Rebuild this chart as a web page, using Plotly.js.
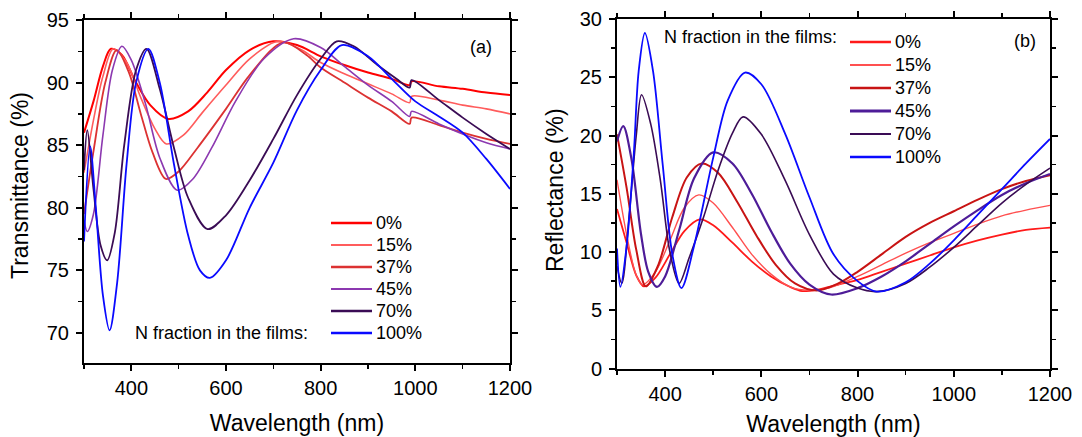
<!DOCTYPE html>
<html>
<head>
<meta charset="utf-8">
<script src="https://cdn.plot.ly/plotly-3.0.1.min.js"></script>
<style>html,body{margin:0;padding:0;background:#fff;}#chart{width:1082px;height:437px;}</style>
</head>
<body>
<div id="chart"></div>
<script>
// ---------- Data: Transmittance (panel a) ----------
const seriesNames = ["0%", "15%", "37%", "45%", "70%", "100%"];

const wlT0   = [300,320,340,357,380,410,440,478,520,560,600,650,700,750,800,850,900,950,988,992,1050,1100,1150,1200];
const trans0 = [86.0,88.5,91.3,92.7,92.2,90.0,88.2,87.1,87.7,89.2,91.0,92.6,93.3,93.0,92.1,91.4,90.8,90.3,89.8,90.1,89.7,89.5,89.2,89.0];

const wlT15   = [300,320,340,362,390,420,450,474,510,550,600,650,710,760,800,850,900,950,988,992,1050,1100,1150,1200];
const trans15 = [82.8,87.0,90.5,92.7,91.6,88.8,86.3,85.1,85.8,87.6,89.8,91.9,93.3,92.6,91.6,90.7,89.9,89.1,88.4,88.9,88.6,88.2,87.9,87.5];

const wlT37   = [300,320,345,369,395,420,445,473,500,540,600,650,720,770,800,850,900,950,988,992,1050,1100,1150,1200];
const trans37 = [79.5,84.5,90.0,92.6,90.8,87.5,84.4,82.3,82.9,84.8,87.9,90.6,93.2,92.2,91.2,90.0,88.8,87.7,86.7,87.2,86.6,86.0,85.5,85.1];

const wlT45   = [300,307,320,340,360,380,400,430,460,497,530,570,620,680,743,800,850,900,950,988,992,1050,1100,1150,1200];
const trans45 = [79.0,78.1,79.5,85.8,91.0,92.9,91.8,88.3,84.0,81.4,82.3,84.8,88.5,91.9,93.5,92.8,91.3,89.8,88.5,87.3,87.7,86.7,85.9,85.2,84.7];

const wlT70   = [300,307,320,335,349,365,385,410,432,460,490,520,561,600,650,700,750,800,834,870,920,960,988,992,1050,1100,1150,1200];
const trans70 = [83.0,86.2,81.5,77.0,75.8,78.0,85.0,91.0,92.7,89.5,84.8,80.8,78.3,79.4,82.2,85.5,89.0,91.9,93.3,92.9,91.4,90.3,89.6,90.2,88.6,87.2,85.9,84.7];

const wlT100   = [300,313,325,340,354,370,390,410,436,460,490,520,545,566,600,650,700,750,800,845,900,950,1000,1050,1100,1150,1200];
const trans100 = [77.3,84.9,80.0,73.0,70.2,74.0,83.5,90.0,92.7,90.0,83.5,77.8,75.0,74.4,75.8,80.0,83.6,87.8,91.0,93.0,92.1,90.3,88.5,87.3,86.0,83.9,81.5];

// ---------- Data: Reflectance (panel b) ----------
const wlR0  = [300,320,340,356,380,410,440,472,500,540,580,620,660,685,720,760,800,850,900,950,1000,1050,1100,1150,1200];
const refl0 = [13.7,10.8,8.0,7.05,7.8,9.8,11.8,12.8,12.3,10.8,9.2,7.9,7.0,6.65,6.8,7.2,7.6,8.3,9.0,9.7,10.4,11.0,11.5,11.9,12.1];

const wlR15  = [300,320,340,353,380,410,440,470,500,540,580,620,660,700,740,800,850,900,950,1000,1050,1100,1150,1200];
const refl15 = [16.2,11.5,8.0,7.2,8.3,11.0,13.8,14.9,14.2,12.1,9.8,8.1,7.0,6.7,6.9,7.9,8.9,9.9,10.8,11.6,12.4,13.1,13.6,14.0];

const wlR37  = [300,320,340,360,385,415,445,476,510,550,590,630,670,715,760,800,850,900,950,1000,1050,1100,1150,1200];
const refl37 = [20.1,15.5,10.2,7.05,8.8,13.0,16.4,17.6,16.8,14.3,11.4,8.9,7.3,6.7,7.3,8.3,9.8,11.3,12.5,13.5,14.5,15.4,16.1,16.6];

const wlR45  = [300,313,330,350,365,383,400,430,460,500,540,580,620,660,700,745,800,850,900,950,1000,1050,1100,1150,1200];
const refl45 = [19.5,20.8,18.0,11.5,8.3,7.0,7.9,12.0,16.3,18.55,17.6,15.0,11.8,9.0,7.2,6.35,6.9,7.9,9.2,10.7,12.2,13.6,14.9,15.9,16.7];

const wlR70  = [300,310,325,340,351,370,390,410,429,450,480,510,540,562,600,650,700,750,800,840,900,950,1000,1050,1100,1150,1200];
const refl70 = [8.8,7.3,13.0,20.0,23.5,21.0,16.2,10.0,7.3,9.5,13.0,17.0,20.2,21.6,20.1,16.1,11.5,8.1,6.9,6.6,7.3,8.7,10.4,12.3,14.2,15.8,17.2];

const wlR100  = [300,307,320,335,345,358,375,395,415,434,460,500,530,566,600,650,700,750,800,840,900,950,1000,1050,1100,1150,1200];
const refl100 = [10.3,7.0,10.5,18.5,25.5,28.8,25.5,17.5,9.8,6.9,10.5,18.1,23.0,25.4,24.4,20.1,14.7,9.8,7.5,6.6,7.4,9.0,11.0,13.2,15.4,17.6,19.7];

// ---------- Styles ----------
const colorsA = ["#ff0000", "#ff5c5c", "#dc3232", "#8c38b0", "#3a0c55", "#0a0aff"];
const colorsB = ["#ff1a1a", "#ff5050", "#c81414", "#4e1c98", "#3a0c55", "#0a0aff"];
const widthsA = [2, 1.6, 1.8, 1.6, 1.8, 1.8];
const widthsB = [1.8, 1.4, 2, 2.2, 1.6, 1.8];

const dataA = [[wlT0,trans0],[wlT15,trans15],[wlT37,trans37],[wlT45,trans45],[wlT70,trans70],[wlT100,trans100]];
const dataB = [[wlR0,refl0],[wlR15,refl15],[wlR37,refl37],[wlR45,refl45],[wlR70,refl70],[wlR100,refl100]];

const traces = [];
dataA.forEach((d, i) => traces.push({
  x: d[0], y: d[1], name: seriesNames[i], type: "scatter", mode: "lines",
  line: {color: colorsA[i], width: widthsA[i], shape: "spline", smoothing: 0.9},
  xaxis: "x", yaxis: "y", showlegend: false
}));
dataB.forEach((d, i) => traces.push({
  x: d[0], y: d[1], name: seriesNames[i], type: "scatter", mode: "lines",
  line: {color: colorsB[i], width: widthsB[i], shape: "spline", smoothing: 0.9},
  xaxis: "x2", yaxis: "y2", showlegend: false
}));

const W = 1082, H = 437;
const fam = "Liberation Sans, Arial, sans-serif";
const tickFont = {family: fam, size: 20, color: "#000"};
const titleFont = {family: fam, size: 23, color: "#000"};
const legFont = {family: fam, size: 18, color: "#000"};

function xax(domain, anchor) {
  return {
    domain: domain, anchor: anchor, range: [300, 1200], tick0: 400, dtick: 200,
    ticks: "outside", ticklen: 6, tickwidth: 2, tickcolor: "#000",
    showline: true, linewidth: 2, linecolor: "#000", mirror: "allticks",
    showgrid: false, zeroline: false, tickfont: tickFont,
    minor: {tick0: 300, dtick: 100, ticks: "outside", ticklen: 4, tickwidth: 1.5, tickcolor: "#000", showgrid: false},
    title: {text: "Wavelength (nm)", font: titleFont, standoff: 17},
    automargin: false
  };
}
function yax(domain, anchor, range) {
  return {
    domain: domain, anchor: anchor, range: range, tick0: 0, dtick: 5,
    ticks: "outside", ticklen: 6, tickwidth: 2, tickcolor: "#000",
    showline: true, linewidth: 2, linecolor: "#000", mirror: "allticks",
    showgrid: false, zeroline: false, tickfont: tickFont, ticklabelstandoff: 3,
    minor: {dtick: 2.5, ticks: "outside", ticklen: 4, tickwidth: 1.5, tickcolor: "#000", showgrid: false},
    automargin: false
  };
}

// ---------- Hand-built legends (paper coordinates) ----------
const shapes = [];
const annotations = [];
function buildLegend(x0, lineLen, yTop, rowGap, colors, widths) {
  seriesNames.forEach((nm, i) => {
    const y = 1 - (yTop + i * rowGap) / H;
    shapes.push({type: "line", xref: "paper", yref: "paper", x0: x0 / W, x1: (x0 + lineLen) / W, y0: y, y1: y,
                 line: {color: colors[i], width: widths[i] + 0.6}});
    annotations.push({text: nm, xref: "paper", yref: "paper", x: (x0 + lineLen + 2) / W, y: y,
                      xanchor: "left", yanchor: "middle", showarrow: false, font: legFont});
  });
}
buildLegend(331, 41, 223, 22, colorsA, widthsA);
buildLegend(850, 41, 42, 23, colorsB, widthsB);

annotations.push(
  {text: "Transmittance (%)", xref: "paper", yref: "paper", x: 20/W, y: 1 - 186/H, textangle: -90,
   xanchor: "center", yanchor: "middle", showarrow: false, font: titleFont},
  {text: "Reflectance (%)", xref: "paper", yref: "paper", x: 555/W, y: 1 - 190/H, textangle: -90,
   xanchor: "center", yanchor: "middle", showarrow: false, font: titleFont},
  {text: "N fraction in the films:", xref: "paper", yref: "paper", x: 133/W, y: 1 - 333/H,
   xanchor: "left", yanchor: "middle", showarrow: false, font: legFont},
  {text: "N fraction in the films:", xref: "paper", yref: "paper", x: 662/W, y: 1 - 37/H,
   xanchor: "left", yanchor: "middle", showarrow: false, font: legFont},
  {text: "(a)", xref: "paper", yref: "paper", x: 481/W, y: 1 - 47/H,
   xanchor: "center", yanchor: "middle", showarrow: false, font: legFont},
  {text: "(b)", xref: "paper", yref: "paper", x: 1025/W, y: 1 - 41/H,
   xanchor: "center", yanchor: "middle", showarrow: false, font: legFont}
);

const layout = {
  width: W, height: H,
  margin: {l: 0, r: 0, t: 0, b: 0},
  paper_bgcolor: "#fff", plot_bgcolor: "#fff",
  font: {family: fam, color: "#000"},
  xaxis: xax([84/W, 510/W], "y"),
  yaxis: yax([1 - 363/H, 1 - 20/H], "x", [67.6, 95]),
  xaxis2: xax([617/W, 1050/W], "y2"),
  yaxis2: yax([1 - 368.5/H, 1 - 19/H], "x2", [0, 30]),
  showlegend: false,
  shapes: shapes,
  annotations: annotations
};

Plotly.newPlot("chart", traces, layout, {staticPlot: true, displayModeBar: false});
</script>
</body>
</html>
